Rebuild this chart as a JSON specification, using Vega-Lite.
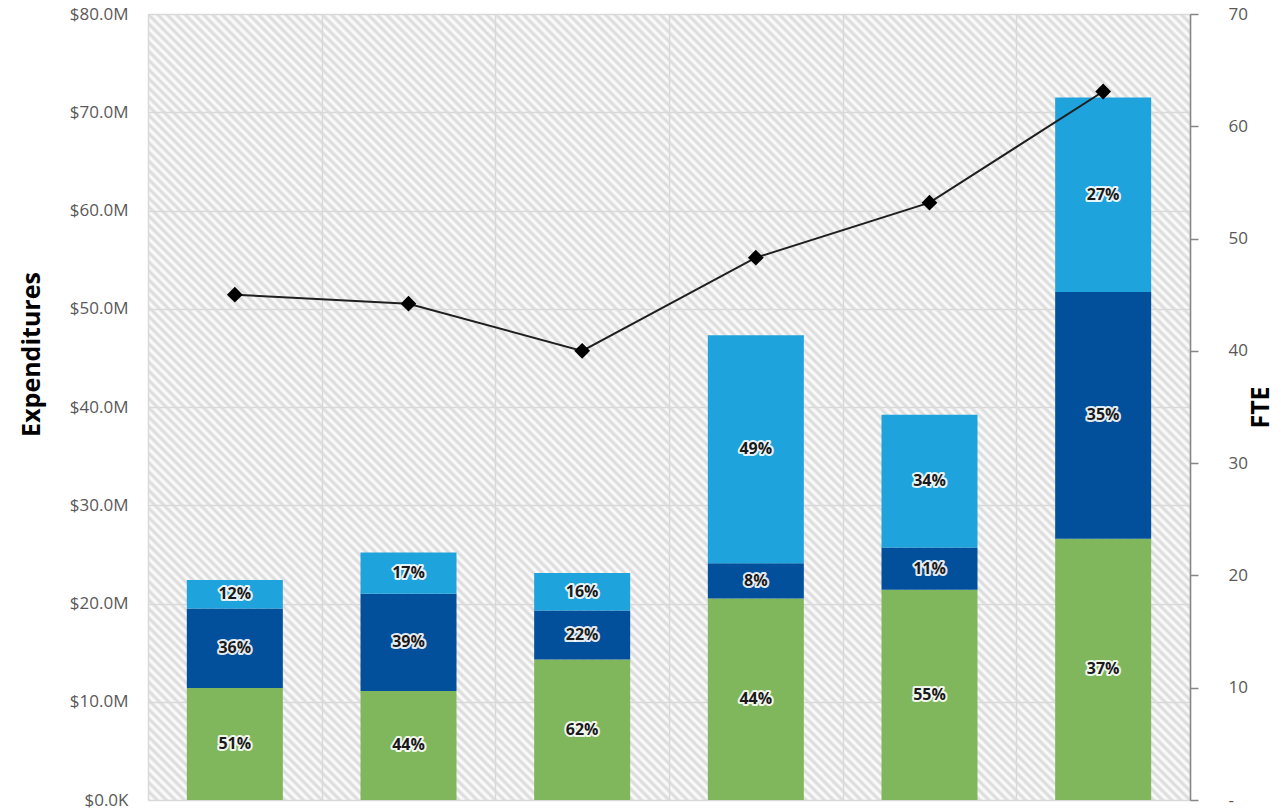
{
"$schema":"https://vega.github.io/schema/vega-lite/v6.json",
"width":1042,"height":786,
"autosize":{"type":"none"},
"padding":{"left":148,"top":14,"right":91,"bottom":10},
"background":"#ffffff",
"config":{"view":{"stroke":null,"fill":{"gradient":"linear","x1":0,"y1":1,"x2":1.1181,"y2":0.1566,"stops":[
{"offset":0,"color":"#d8d8d8"},{"offset":0.0025,"color":"#fff"},{"offset":0.005,"color":"#d8d8d8"},{"offset":0.0075,"color":"#fff"},
{"offset":0.01,"color":"#d8d8d8"},{"offset":0.0125,"color":"#fff"},{"offset":0.015,"color":"#d8d8d8"},{"offset":0.0175,"color":"#fff"},
{"offset":0.02,"color":"#d8d8d8"},{"offset":0.0225,"color":"#fff"},{"offset":0.025,"color":"#d8d8d8"},{"offset":0.0275,"color":"#fff"},
{"offset":0.03,"color":"#d8d8d8"},{"offset":0.0325,"color":"#fff"},{"offset":0.035,"color":"#d8d8d8"},{"offset":0.0375,"color":"#fff"},
{"offset":0.04,"color":"#d8d8d8"},{"offset":0.0425,"color":"#fff"},{"offset":0.045,"color":"#d8d8d8"},{"offset":0.0475,"color":"#fff"},
{"offset":0.05,"color":"#d8d8d8"},{"offset":0.0525,"color":"#fff"},{"offset":0.055,"color":"#d8d8d8"},{"offset":0.0575,"color":"#fff"},
{"offset":0.06,"color":"#d8d8d8"},{"offset":0.0625,"color":"#fff"},{"offset":0.065,"color":"#d8d8d8"},{"offset":0.0675,"color":"#fff"},
{"offset":0.07,"color":"#d8d8d8"},{"offset":0.0725,"color":"#fff"},{"offset":0.075,"color":"#d8d8d8"},{"offset":0.0775,"color":"#fff"},
{"offset":0.08,"color":"#d8d8d8"},{"offset":0.0825,"color":"#fff"},{"offset":0.085,"color":"#d8d8d8"},{"offset":0.0875,"color":"#fff"},
{"offset":0.09,"color":"#d8d8d8"},{"offset":0.0925,"color":"#fff"},{"offset":0.095,"color":"#d8d8d8"},{"offset":0.0975,"color":"#fff"},
{"offset":0.1,"color":"#d8d8d8"},{"offset":0.1025,"color":"#fff"},{"offset":0.105,"color":"#d8d8d8"},{"offset":0.1075,"color":"#fff"},
{"offset":0.11,"color":"#d8d8d8"},{"offset":0.1125,"color":"#fff"},{"offset":0.115,"color":"#d8d8d8"},{"offset":0.1175,"color":"#fff"},
{"offset":0.12,"color":"#d8d8d8"},{"offset":0.1225,"color":"#fff"},{"offset":0.125,"color":"#d8d8d8"},{"offset":0.1275,"color":"#fff"},
{"offset":0.13,"color":"#d8d8d8"},{"offset":0.1325,"color":"#fff"},{"offset":0.135,"color":"#d8d8d8"},{"offset":0.1375,"color":"#fff"},
{"offset":0.14,"color":"#d8d8d8"},{"offset":0.1425,"color":"#fff"},{"offset":0.145,"color":"#d8d8d8"},{"offset":0.1475,"color":"#fff"},
{"offset":0.15,"color":"#d8d8d8"},{"offset":0.1525,"color":"#fff"},{"offset":0.155,"color":"#d8d8d8"},{"offset":0.1575,"color":"#fff"},
{"offset":0.16,"color":"#d8d8d8"},{"offset":0.1625,"color":"#fff"},{"offset":0.165,"color":"#d8d8d8"},{"offset":0.1675,"color":"#fff"},
{"offset":0.17,"color":"#d8d8d8"},{"offset":0.1725,"color":"#fff"},{"offset":0.175,"color":"#d8d8d8"},{"offset":0.1775,"color":"#fff"},
{"offset":0.18,"color":"#d8d8d8"},{"offset":0.1825,"color":"#fff"},{"offset":0.185,"color":"#d8d8d8"},{"offset":0.1875,"color":"#fff"},
{"offset":0.19,"color":"#d8d8d8"},{"offset":0.1925,"color":"#fff"},{"offset":0.195,"color":"#d8d8d8"},{"offset":0.1975,"color":"#fff"},
{"offset":0.2,"color":"#d8d8d8"},{"offset":0.2025,"color":"#fff"},{"offset":0.205,"color":"#d8d8d8"},{"offset":0.2075,"color":"#fff"},
{"offset":0.21,"color":"#d8d8d8"},{"offset":0.2125,"color":"#fff"},{"offset":0.215,"color":"#d8d8d8"},{"offset":0.2175,"color":"#fff"},
{"offset":0.22,"color":"#d8d8d8"},{"offset":0.2225,"color":"#fff"},{"offset":0.225,"color":"#d8d8d8"},{"offset":0.2275,"color":"#fff"},
{"offset":0.23,"color":"#d8d8d8"},{"offset":0.2325,"color":"#fff"},{"offset":0.235,"color":"#d8d8d8"},{"offset":0.2375,"color":"#fff"},
{"offset":0.24,"color":"#d8d8d8"},{"offset":0.2425,"color":"#fff"},{"offset":0.245,"color":"#d8d8d8"},{"offset":0.2475,"color":"#fff"},
{"offset":0.25,"color":"#d8d8d8"},{"offset":0.2525,"color":"#fff"},{"offset":0.255,"color":"#d8d8d8"},{"offset":0.2575,"color":"#fff"},
{"offset":0.26,"color":"#d8d8d8"},{"offset":0.2625,"color":"#fff"},{"offset":0.265,"color":"#d8d8d8"},{"offset":0.2675,"color":"#fff"},
{"offset":0.27,"color":"#d8d8d8"},{"offset":0.2725,"color":"#fff"},{"offset":0.275,"color":"#d8d8d8"},{"offset":0.2775,"color":"#fff"},
{"offset":0.28,"color":"#d8d8d8"},{"offset":0.2825,"color":"#fff"},{"offset":0.285,"color":"#d8d8d8"},{"offset":0.2875,"color":"#fff"},
{"offset":0.29,"color":"#d8d8d8"},{"offset":0.2925,"color":"#fff"},{"offset":0.295,"color":"#d8d8d8"},{"offset":0.2975,"color":"#fff"},
{"offset":0.3,"color":"#d8d8d8"},{"offset":0.3025,"color":"#fff"},{"offset":0.305,"color":"#d8d8d8"},{"offset":0.3075,"color":"#fff"},
{"offset":0.31,"color":"#d8d8d8"},{"offset":0.3125,"color":"#fff"},{"offset":0.315,"color":"#d8d8d8"},{"offset":0.3175,"color":"#fff"},
{"offset":0.32,"color":"#d8d8d8"},{"offset":0.3225,"color":"#fff"},{"offset":0.325,"color":"#d8d8d8"},{"offset":0.3275,"color":"#fff"},
{"offset":0.33,"color":"#d8d8d8"},{"offset":0.3325,"color":"#fff"},{"offset":0.335,"color":"#d8d8d8"},{"offset":0.3375,"color":"#fff"},
{"offset":0.34,"color":"#d8d8d8"},{"offset":0.3425,"color":"#fff"},{"offset":0.345,"color":"#d8d8d8"},{"offset":0.3475,"color":"#fff"},
{"offset":0.35,"color":"#d8d8d8"},{"offset":0.3525,"color":"#fff"},{"offset":0.355,"color":"#d8d8d8"},{"offset":0.3575,"color":"#fff"},
{"offset":0.36,"color":"#d8d8d8"},{"offset":0.3625,"color":"#fff"},{"offset":0.365,"color":"#d8d8d8"},{"offset":0.3675,"color":"#fff"},
{"offset":0.37,"color":"#d8d8d8"},{"offset":0.3725,"color":"#fff"},{"offset":0.375,"color":"#d8d8d8"},{"offset":0.3775,"color":"#fff"},
{"offset":0.38,"color":"#d8d8d8"},{"offset":0.3825,"color":"#fff"},{"offset":0.385,"color":"#d8d8d8"},{"offset":0.3875,"color":"#fff"},
{"offset":0.39,"color":"#d8d8d8"},{"offset":0.3925,"color":"#fff"},{"offset":0.395,"color":"#d8d8d8"},{"offset":0.3975,"color":"#fff"},
{"offset":0.4,"color":"#d8d8d8"},{"offset":0.4025,"color":"#fff"},{"offset":0.405,"color":"#d8d8d8"},{"offset":0.4075,"color":"#fff"},
{"offset":0.41,"color":"#d8d8d8"},{"offset":0.4125,"color":"#fff"},{"offset":0.415,"color":"#d8d8d8"},{"offset":0.4175,"color":"#fff"},
{"offset":0.42,"color":"#d8d8d8"},{"offset":0.4225,"color":"#fff"},{"offset":0.425,"color":"#d8d8d8"},{"offset":0.4275,"color":"#fff"},
{"offset":0.43,"color":"#d8d8d8"},{"offset":0.4325,"color":"#fff"},{"offset":0.435,"color":"#d8d8d8"},{"offset":0.4375,"color":"#fff"},
{"offset":0.44,"color":"#d8d8d8"},{"offset":0.4425,"color":"#fff"},{"offset":0.445,"color":"#d8d8d8"},{"offset":0.4475,"color":"#fff"},
{"offset":0.45,"color":"#d8d8d8"},{"offset":0.4525,"color":"#fff"},{"offset":0.455,"color":"#d8d8d8"},{"offset":0.4575,"color":"#fff"},
{"offset":0.46,"color":"#d8d8d8"},{"offset":0.4625,"color":"#fff"},{"offset":0.465,"color":"#d8d8d8"},{"offset":0.4675,"color":"#fff"},
{"offset":0.47,"color":"#d8d8d8"},{"offset":0.4725,"color":"#fff"},{"offset":0.475,"color":"#d8d8d8"},{"offset":0.4775,"color":"#fff"},
{"offset":0.48,"color":"#d8d8d8"},{"offset":0.4825,"color":"#fff"},{"offset":0.485,"color":"#d8d8d8"},{"offset":0.4875,"color":"#fff"},
{"offset":0.49,"color":"#d8d8d8"},{"offset":0.4925,"color":"#fff"},{"offset":0.495,"color":"#d8d8d8"},{"offset":0.4975,"color":"#fff"},
{"offset":0.5,"color":"#d8d8d8"},{"offset":0.5025,"color":"#fff"},{"offset":0.505,"color":"#d8d8d8"},{"offset":0.5075,"color":"#fff"},
{"offset":0.51,"color":"#d8d8d8"},{"offset":0.5125,"color":"#fff"},{"offset":0.515,"color":"#d8d8d8"},{"offset":0.5175,"color":"#fff"},
{"offset":0.52,"color":"#d8d8d8"},{"offset":0.5225,"color":"#fff"},{"offset":0.525,"color":"#d8d8d8"},{"offset":0.5275,"color":"#fff"},
{"offset":0.53,"color":"#d8d8d8"},{"offset":0.5325,"color":"#fff"},{"offset":0.535,"color":"#d8d8d8"},{"offset":0.5375,"color":"#fff"},
{"offset":0.54,"color":"#d8d8d8"},{"offset":0.5425,"color":"#fff"},{"offset":0.545,"color":"#d8d8d8"},{"offset":0.5475,"color":"#fff"},
{"offset":0.55,"color":"#d8d8d8"},{"offset":0.5525,"color":"#fff"},{"offset":0.555,"color":"#d8d8d8"},{"offset":0.5575,"color":"#fff"},
{"offset":0.56,"color":"#d8d8d8"},{"offset":0.5625,"color":"#fff"},{"offset":0.565,"color":"#d8d8d8"},{"offset":0.5675,"color":"#fff"},
{"offset":0.57,"color":"#d8d8d8"},{"offset":0.5725,"color":"#fff"},{"offset":0.575,"color":"#d8d8d8"},{"offset":0.5775,"color":"#fff"},
{"offset":0.58,"color":"#d8d8d8"},{"offset":0.5825,"color":"#fff"},{"offset":0.585,"color":"#d8d8d8"},{"offset":0.5875,"color":"#fff"},
{"offset":0.59,"color":"#d8d8d8"},{"offset":0.5925,"color":"#fff"},{"offset":0.595,"color":"#d8d8d8"},{"offset":0.5975,"color":"#fff"},
{"offset":0.6,"color":"#d8d8d8"},{"offset":0.6025,"color":"#fff"},{"offset":0.605,"color":"#d8d8d8"},{"offset":0.6075,"color":"#fff"},
{"offset":0.61,"color":"#d8d8d8"},{"offset":0.6125,"color":"#fff"},{"offset":0.615,"color":"#d8d8d8"},{"offset":0.6175,"color":"#fff"},
{"offset":0.62,"color":"#d8d8d8"},{"offset":0.6225,"color":"#fff"},{"offset":0.625,"color":"#d8d8d8"},{"offset":0.6275,"color":"#fff"},
{"offset":0.63,"color":"#d8d8d8"},{"offset":0.6325,"color":"#fff"},{"offset":0.635,"color":"#d8d8d8"},{"offset":0.6375,"color":"#fff"},
{"offset":0.64,"color":"#d8d8d8"},{"offset":0.6425,"color":"#fff"},{"offset":0.645,"color":"#d8d8d8"},{"offset":0.6475,"color":"#fff"},
{"offset":0.65,"color":"#d8d8d8"},{"offset":0.6525,"color":"#fff"},{"offset":0.655,"color":"#d8d8d8"},{"offset":0.6575,"color":"#fff"},
{"offset":0.66,"color":"#d8d8d8"},{"offset":0.6625,"color":"#fff"},{"offset":0.665,"color":"#d8d8d8"},{"offset":0.6675,"color":"#fff"},
{"offset":0.67,"color":"#d8d8d8"},{"offset":0.6725,"color":"#fff"},{"offset":0.675,"color":"#d8d8d8"},{"offset":0.6775,"color":"#fff"},
{"offset":0.68,"color":"#d8d8d8"},{"offset":0.6825,"color":"#fff"},{"offset":0.685,"color":"#d8d8d8"},{"offset":0.6875,"color":"#fff"},
{"offset":0.69,"color":"#d8d8d8"},{"offset":0.6925,"color":"#fff"},{"offset":0.695,"color":"#d8d8d8"},{"offset":0.6975,"color":"#fff"},
{"offset":0.7,"color":"#d8d8d8"},{"offset":0.7025,"color":"#fff"},{"offset":0.705,"color":"#d8d8d8"},{"offset":0.7075,"color":"#fff"},
{"offset":0.71,"color":"#d8d8d8"},{"offset":0.7125,"color":"#fff"},{"offset":0.715,"color":"#d8d8d8"},{"offset":0.7175,"color":"#fff"},
{"offset":0.72,"color":"#d8d8d8"},{"offset":0.7225,"color":"#fff"},{"offset":0.725,"color":"#d8d8d8"},{"offset":0.7275,"color":"#fff"},
{"offset":0.73,"color":"#d8d8d8"},{"offset":0.7325,"color":"#fff"},{"offset":0.735,"color":"#d8d8d8"},{"offset":0.7375,"color":"#fff"},
{"offset":0.74,"color":"#d8d8d8"},{"offset":0.7425,"color":"#fff"},{"offset":0.745,"color":"#d8d8d8"},{"offset":0.7475,"color":"#fff"},
{"offset":0.75,"color":"#d8d8d8"},{"offset":0.7525,"color":"#fff"},{"offset":0.755,"color":"#d8d8d8"},{"offset":0.7575,"color":"#fff"},
{"offset":0.76,"color":"#d8d8d8"},{"offset":0.7625,"color":"#fff"},{"offset":0.765,"color":"#d8d8d8"},{"offset":0.7675,"color":"#fff"},
{"offset":0.77,"color":"#d8d8d8"},{"offset":0.7725,"color":"#fff"},{"offset":0.775,"color":"#d8d8d8"},{"offset":0.7775,"color":"#fff"},
{"offset":0.78,"color":"#d8d8d8"},{"offset":0.7825,"color":"#fff"},{"offset":0.785,"color":"#d8d8d8"},{"offset":0.7875,"color":"#fff"},
{"offset":0.79,"color":"#d8d8d8"},{"offset":0.7925,"color":"#fff"},{"offset":0.795,"color":"#d8d8d8"},{"offset":0.7975,"color":"#fff"},
{"offset":0.8,"color":"#d8d8d8"},{"offset":0.8025,"color":"#fff"},{"offset":0.805,"color":"#d8d8d8"},{"offset":0.8075,"color":"#fff"},
{"offset":0.81,"color":"#d8d8d8"},{"offset":0.8125,"color":"#fff"},{"offset":0.815,"color":"#d8d8d8"},{"offset":0.8175,"color":"#fff"},
{"offset":0.82,"color":"#d8d8d8"},{"offset":0.8225,"color":"#fff"},{"offset":0.825,"color":"#d8d8d8"},{"offset":0.8275,"color":"#fff"},
{"offset":0.83,"color":"#d8d8d8"},{"offset":0.8325,"color":"#fff"},{"offset":0.835,"color":"#d8d8d8"},{"offset":0.8375,"color":"#fff"},
{"offset":0.84,"color":"#d8d8d8"},{"offset":0.8425,"color":"#fff"},{"offset":0.845,"color":"#d8d8d8"},{"offset":0.8475,"color":"#fff"},
{"offset":0.85,"color":"#d8d8d8"},{"offset":0.8525,"color":"#fff"},{"offset":0.855,"color":"#d8d8d8"},{"offset":0.8575,"color":"#fff"},
{"offset":0.86,"color":"#d8d8d8"},{"offset":0.8625,"color":"#fff"},{"offset":0.865,"color":"#d8d8d8"},{"offset":0.8675,"color":"#fff"},
{"offset":0.87,"color":"#d8d8d8"},{"offset":0.8725,"color":"#fff"},{"offset":0.875,"color":"#d8d8d8"},{"offset":0.8775,"color":"#fff"},
{"offset":0.88,"color":"#d8d8d8"},{"offset":0.8825,"color":"#fff"},{"offset":0.885,"color":"#d8d8d8"},{"offset":0.8875,"color":"#fff"},
{"offset":0.89,"color":"#d8d8d8"},{"offset":0.8925,"color":"#fff"},{"offset":0.895,"color":"#d8d8d8"},{"offset":0.8975,"color":"#fff"},
{"offset":0.9,"color":"#d8d8d8"},{"offset":0.9025,"color":"#fff"},{"offset":0.905,"color":"#d8d8d8"},{"offset":0.9075,"color":"#fff"},
{"offset":0.91,"color":"#d8d8d8"},{"offset":0.9125,"color":"#fff"},{"offset":0.915,"color":"#d8d8d8"},{"offset":0.9175,"color":"#fff"},
{"offset":0.92,"color":"#d8d8d8"},{"offset":0.9225,"color":"#fff"},{"offset":0.925,"color":"#d8d8d8"},{"offset":0.9275,"color":"#fff"},
{"offset":0.93,"color":"#d8d8d8"},{"offset":0.9325,"color":"#fff"},{"offset":0.935,"color":"#d8d8d8"},{"offset":0.9375,"color":"#fff"},
{"offset":0.94,"color":"#d8d8d8"},{"offset":0.9425,"color":"#fff"},{"offset":0.945,"color":"#d8d8d8"},{"offset":0.9475,"color":"#fff"},
{"offset":0.95,"color":"#d8d8d8"},{"offset":0.9525,"color":"#fff"},{"offset":0.955,"color":"#d8d8d8"},{"offset":0.9575,"color":"#fff"},
{"offset":0.96,"color":"#d8d8d8"},{"offset":0.9625,"color":"#fff"},{"offset":0.965,"color":"#d8d8d8"},{"offset":0.9675,"color":"#fff"},
{"offset":0.97,"color":"#d8d8d8"},{"offset":0.9725,"color":"#fff"},{"offset":0.975,"color":"#d8d8d8"},{"offset":0.9775,"color":"#fff"},
{"offset":0.98,"color":"#d8d8d8"},{"offset":0.9825,"color":"#fff"},{"offset":0.985,"color":"#d8d8d8"},{"offset":0.9875,"color":"#fff"},
{"offset":0.99,"color":"#d8d8d8"},{"offset":0.9925,"color":"#fff"},{"offset":0.995,"color":"#d8d8d8"},{"offset":0.9975,"color":"#fff"},
{"offset":1,"color":"#d8d8d8"}
]}}},
"datasets":{
"bars":[
{"cat":"C1","seg":"Segment A","ord":1,"value":11.4,"pct":"51%"},
{"cat":"C1","seg":"Segment B","ord":2,"value":8.1,"pct":"36%"},
{"cat":"C1","seg":"Segment C","ord":3,"value":2.9,"pct":"12%"},
{"cat":"C2","seg":"Segment A","ord":1,"value":11.1,"pct":"44%"},
{"cat":"C2","seg":"Segment B","ord":2,"value":9.9,"pct":"39%"},
{"cat":"C2","seg":"Segment C","ord":3,"value":4.2,"pct":"17%"},
{"cat":"C3","seg":"Segment A","ord":1,"value":14.3,"pct":"62%"},
{"cat":"C3","seg":"Segment B","ord":2,"value":5.0,"pct":"22%"},
{"cat":"C3","seg":"Segment C","ord":3,"value":3.8,"pct":"16%"},
{"cat":"C4","seg":"Segment A","ord":1,"value":20.5,"pct":"44%"},
{"cat":"C4","seg":"Segment B","ord":2,"value":3.6,"pct":"8%"},
{"cat":"C4","seg":"Segment C","ord":3,"value":23.2,"pct":"49%"},
{"cat":"C5","seg":"Segment A","ord":1,"value":21.4,"pct":"55%"},
{"cat":"C5","seg":"Segment B","ord":2,"value":4.3,"pct":"11%"},
{"cat":"C5","seg":"Segment C","ord":3,"value":13.5,"pct":"34%"},
{"cat":"C6","seg":"Segment A","ord":1,"value":26.6,"pct":"37%"},
{"cat":"C6","seg":"Segment B","ord":2,"value":25.1,"pct":"35%"},
{"cat":"C6","seg":"Segment C","ord":3,"value":19.8,"pct":"27%"}
],
"fte":[
{"cat":"C1","fte":45.0},
{"cat":"C2","fte":44.2},
{"cat":"C3","fte":40.0},
{"cat":"C4","fte":48.3},
{"cat":"C5","fte":53.2},
{"cat":"C6","fte":63.1}
]
},
"encoding":{
"x":{"field":"cat","type":"nominal","sort":null,"title":null,
"scale":{"paddingInner":0,"paddingOuter":0},
"axis":{"labels":false,"ticks":false,"domain":false,"grid":true,"tickBand":"extent","gridColor":"#d9d9d9","gridWidth":1.5}}
},
"layer":[
{"data":{"name":"bars"},
"layer":[
{"mark":{"type":"bar","width":{"band":0.5528}},
"encoding":{
"y":{"field":"value","type":"quantitative","stack":"zero","scale":{"domain":[0,80],"nice":false},
"axis":{"title":"Expenditures","values":[0,10,20,30,40,50,60,70,80],"grid":true,"gridColor":"#d9d9d9","gridWidth":1.5,"ticks":false,"tickSize":0,"domain":false,
"labelExpr":"datum.value==0?'$0.0K':'$'+format(datum.value,'.1f')+'M'",
"labelFont":"Open Sans","labelFontSize":17,"labelColor":"#595959","labelPadding":20,
"titleFont":"Open Sans","titleFontSize":25,"titleFontWeight":"bold","titleColor":"#000000","titleAngle":270,"titleX":-117,"titleY":340,"titleAlign":"center","titleBaseline":"middle"}},
"order":{"field":"ord","type":"quantitative"},
"color":{"field":"seg","type":"nominal","legend":null,
"scale":{"domain":["Segment A","Segment B","Segment C"],"range":["#80b75d","#024f9b","#1ea3dc"]}}}},
{"transform":[
{"stack":"value","groupby":["cat"],"sort":[{"field":"ord","order":"ascending"}],"as":["s0","s1"]},
{"fold":["s0","s1"],"as":["edgeName","edge"]},
{"aggregate":[{"op":"mean","field":"edge","as":"mid"}],"groupby":["cat","seg","pct"]}
],
"layer":[
{"mark":{"type":"text","font":"Open Sans","fontSize":16,"fontWeight":"bold","baseline":"middle","align":"center","fill":"#ffffff","stroke":"#ffffff","strokeWidth":4,"strokeJoin":"round","strokeOpacity":0.9}},
{"mark":{"type":"text","font":"Open Sans","fontSize":16,"fontWeight":"bold","baseline":"middle","align":"center","fill":"#1a1a1a"}}
],
"encoding":{
"y":{"field":"mid","type":"quantitative","stack":null,"scale":{"domain":[0,80],"nice":false},
"axis":{"title":"Expenditures","values":[0,10,20,30,40,50,60,70,80],"grid":true,"gridColor":"#d9d9d9","gridWidth":1.5,"ticks":false,"tickSize":0,"domain":false,
"labelExpr":"datum.value==0?'$0.0K':'$'+format(datum.value,'.1f')+'M'",
"labelFont":"Open Sans","labelFontSize":17,"labelColor":"#595959","labelPadding":20,
"titleFont":"Open Sans","titleFontSize":25,"titleFontWeight":"bold","titleColor":"#000000","titleAngle":270,"titleX":-117,"titleY":340,"titleAlign":"center","titleBaseline":"middle"}},
"text":{"field":"pct","type":"nominal"}
}}
]},
{"data":{"name":"fte"},
"mark":{"type":"line","color":"#1f1f1f","strokeWidth":2,"point":{"shape":"diamond","size":250,"filled":true,"color":"#000000","opacity":1}},
"encoding":{
"y":{"field":"fte","type":"quantitative","scale":{"domain":[0,70],"nice":false},
"axis":{"orient":"right","title":"FTE","values":[0,10,20,30,40,50,60,70],"grid":false,
"labelExpr":"datum.value==0?'-':datum.label",
"tickSize":8,"tickColor":"#868686","tickWidth":1.5,"domainColor":"#868686","domainWidth":1.5,
"labelFont":"Open Sans","labelFontSize":17,"labelColor":"#595959","labelPadding":30,
"titleFont":"Open Sans","titleFontSize":25,"titleFontWeight":"bold","titleColor":"#000000","titleAngle":270,"titleX":70,"titleY":393,"titleAlign":"center","titleBaseline":"middle"}}
}}
],
"resolve":{"scale":{"y":"independent"}}
}
